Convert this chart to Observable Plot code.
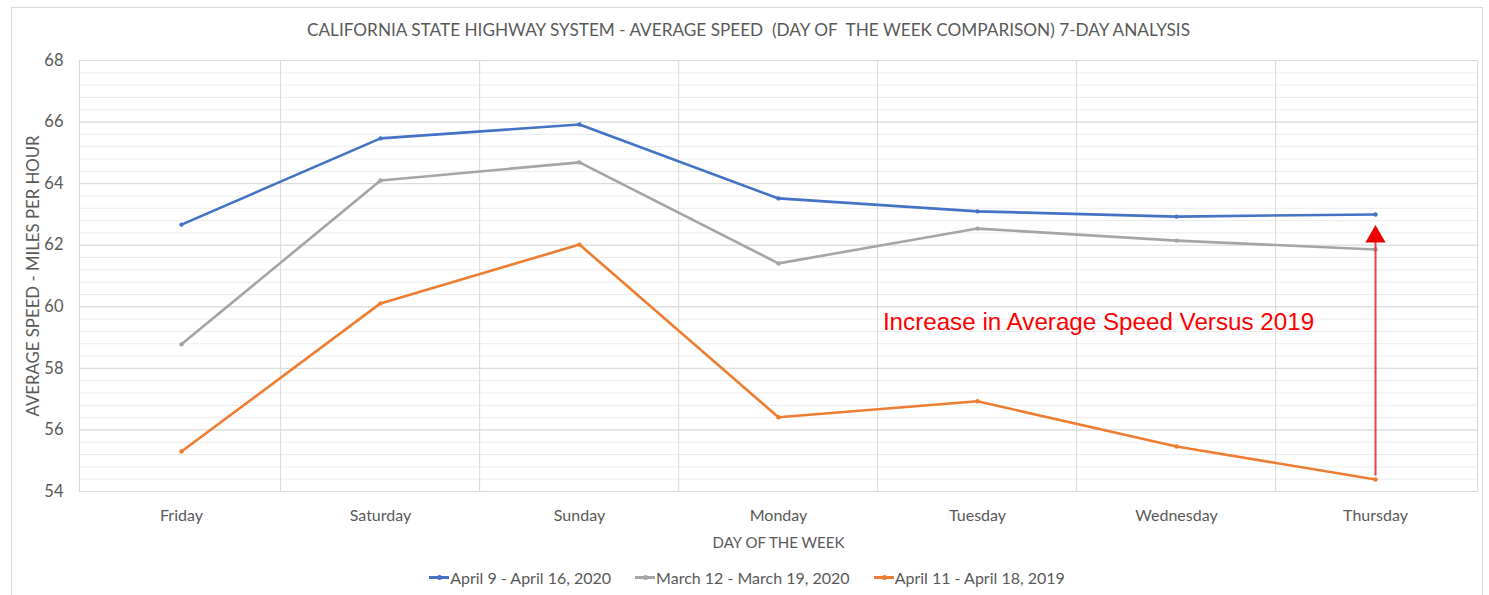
<!DOCTYPE html>
<html>
<head>
<meta charset="utf-8">
<script src="https://cdn.jsdelivr.net/npm/d3@7"></script>
<script src="https://cdn.jsdelivr.net/npm/@observablehq/plot@0.6"></script>
<style>
  html, body { margin: 0; padding: 0; background: #fff; }
  #wrap { position: relative; width: 1489px; height: 595px; overflow: hidden; font-family: Lato, "Open Sans", sans-serif; }
  #border { position: absolute; left: 11px; top: 7px; width: 1472px; height: 600px; border: 1px solid #d9d9d9; box-sizing: border-box; }
  #chart { position: absolute; left: 0; top: 0; }
  #legend { position: absolute; left: 0; width: 1494px; top: 568px; display: flex; justify-content: center; gap: 24px; font-size: 16px; color: #595959; }
  .item { display: flex; align-items: center; }
  .sw { position: relative; width: 20px; height: 3px; margin-right: 1px; }
  .sw::after { content: ""; position: absolute; left: 8px; top: -1px; width: 5px; height: 5px; border-radius: 50%; background: inherit; }
</style>
</head>
<body>
<div id="wrap">
  <div id="border"></div>
  <div id="chart"></div>
  <div id="legend"></div>
</div>
<script>
const days = ["Friday", "Saturday", "Sunday", "Monday", "Tuesday", "Wednesday", "Thursday"];
const seriesNames = ["April 9 - April 16, 2020", "March 12 - March 19, 2020", "April 11 - April 18, 2019"];
const seriesColors = ["#4472c4", "#a5a5a5", "#ed7d31"];
const apr2020 = [62.67, 65.47, 65.92, 63.52, 63.10, 62.93, 63.00];
const mar2020 = [58.78, 64.10, 64.69, 61.41, 62.54, 62.15, 61.86];
const apr2019 = [55.30, 60.11, 62.02, 56.41, 56.93, 55.46, 54.39];
const yTicks = [54, 56, 58, 60, 62, 64, 66, 68];
const titleText = "CALIFORNIA STATE HIGHWAY SYSTEM - AVERAGE SPEED  (DAY OF  THE WEEK COMPARISON) 7-DAY ANALYSIS";
const xLabel = "DAY OF THE WEEK";
const yLabel = "AVERAGE SPEED - MILES PER HOUR";
const annotation = "Increase in Average Speed Versus 2019";
const arrowDay = "Thursday";
const arrowFrom = 54.5;
const arrowTo = 62.28;
const annotationDay = "Wednesday";
const annotationY = 59.5;

const allSeries = [apr2020, mar2020, apr2019];
const rows = [];
allSeries.forEach((vals, si) => vals.forEach((v, i) => rows.push({day: days[i], speed: v, series: seriesNames[si]})));

const minorTicks = d3.range(54, 68.001, 0.4);
const W = 1489, H = 595;
const ml = 79, mr = 12;
const step = (W - ml - mr) / days.length;

const chart = Plot.plot({
  width: W, height: H,
  marginLeft: ml, marginRight: mr, marginTop: 60, marginBottom: 104,
  style: {fontFamily: "Lato, 'Open Sans', sans-serif", fontSize: "16px", color: "#595959", background: "transparent"},
  x: {type: "point", domain: days, padding: 0.5, label: null},
  y: {domain: [54, 68], label: null},
  color: {domain: seriesNames, range: seriesColors},
  marks: [
    Plot.ruleY(minorTicks, {stroke: "#ececec", strokeWidth: 1}),
    Plot.ruleY(yTicks, {stroke: "#d9d9d9", strokeWidth: 1}),
    Plot.ruleX(days.slice(1), {stroke: "#d9d9d9", dx: -step / 2}),
    Plot.frame({stroke: "#d9d9d9"}),
    Plot.axisY(yTicks, {tickSize: 0, tickPadding: 16, label: null, fontSize: 16.5, fill: "#595959"}),
    Plot.axisX(days, {tickSize: 0, tickPadding: 18, label: null, fontSize: 16, fill: "#595959"}),
    Plot.line(rows, {x: "day", y: "speed", z: "series", stroke: "series", strokeWidth: 2.6}),
    Plot.dot(rows, {x: "day", y: "speed", fill: "series", r: 2.2}),
    Plot.ruleX([arrowDay], {y1: arrowFrom, y2: arrowTo, stroke: "#e8202a", strokeWidth: 2, strokeOpacity: 0.85}),
    Plot.dot([arrowDay], {x: d => d, y: [arrowTo], symbol: "triangle", r: 7.5, fill: "#ee0000", stroke: "none"}),
    Plot.text([annotation], {x: [annotationDay], y: [annotationY], text: d => d, dx: -78, fontSize: 24.2, fill: "#ff0000", fontFamily: "'Liberation Sans', Arial, sans-serif"}),
    Plot.text([titleText], {frameAnchor: "top", lineAnchor: "middle", dx: -30, dy: -30, text: d => d, fontSize: 17.2, fill: "#595959"}),
    Plot.text([xLabel], {frameAnchor: "bottom", lineAnchor: "middle", dy: 52, text: d => d, fontSize: 15, fill: "#595959"}),
    Plot.text([yLabel], {frameAnchor: "left", textAnchor: "middle", lineAnchor: "middle", dx: -46, rotate: -90, text: d => d, fontSize: 16.8, fill: "#595959"})
  ]
});
document.getElementById("chart").append(chart);

const legend = document.getElementById("legend");
seriesNames.forEach((name, i) => {
  const item = document.createElement("div");
  item.className = "item";
  const sw = document.createElement("span");
  sw.className = "sw";
  sw.style.background = seriesColors[i];
  const t = document.createElement("span");
  t.textContent = name;
  item.append(sw, t);
  legend.append(item);
});
</script>
</body>
</html>
